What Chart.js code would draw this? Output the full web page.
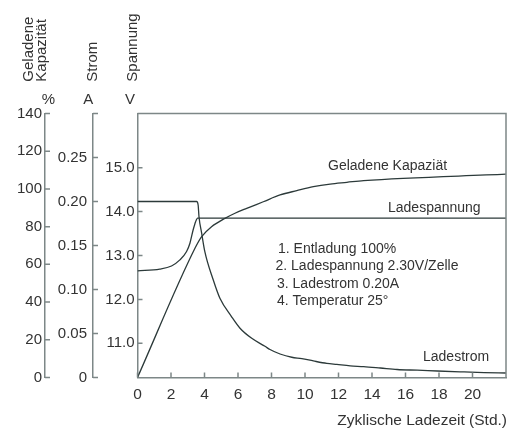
<!DOCTYPE html>
<html>
<head>
<meta charset="utf-8">
<script src="https://cdn.jsdelivr.net/npm/chart.js@4.4.0/dist/chart.umd.min.js"></script>
<style>
html,body{margin:0;padding:0;background:#fff;}
#wrap{width:523px;height:430px;position:relative;}
</style>
</head>
<body>
<div id="wrap"><canvas id="c" width="523" height="430"></canvas></div>
<script>
// ---- data ----
const xTicks = [0, 2, 4, 6, 8, 10, 12, 14, 16, 18, 20];
const pctTicks = [0, 20, 40, 60, 80, 100, 120, 140];
const ampTicks = [0, 0.05, 0.10, 0.15, 0.20, 0.25];
const voltTicks = [11, 12, 13, 14, 15];

// Geladene Kapazität (%)
const capX = [0, 3.43, 3.83, 4.42, 5.22, 5.82, 6.52, 7.51, 8.51, 9.51, 10.5, 11.5, 12.5, 13.5, 22];
const capY = [0, 68.5, 74.7, 80.0, 84.4, 87.1, 89.7, 93.2, 96.8, 99.1, 101.2, 102.6, 103.5, 104.4, 107.8];

// Ladespannung (V)
const voltX = [0, 1.33, 2.03, 2.53, 2.93, 3.13, 3.32, 3.47, 3.59, 22];
const voltY = [12.65, 12.69, 12.76, 12.90, 13.09, 13.28, 13.58, 13.77, 13.85, 13.85];

// Ladestrom (A)
const ampX = [0, 3.53, 3.62, 3.67, 3.83, 4.02, 4.52, 4.92, 5.62, 6.12, 6.82, 7.61, 7.91, 8.51, 9.21, 9.81, 10.5, 11.3, 11.9, 12.7, 13.5, 14.5, 15.5, 16.7, 17.9, 19.5, 20.7, 22];
const ampY = [0.20, 0.20, 0.196, 0.183, 0.164, 0.143, 0.111, 0.090, 0.069, 0.056, 0.0445, 0.0355, 0.0318, 0.0267, 0.023, 0.0215, 0.0188, 0.0160, 0.0148, 0.0132, 0.0124, 0.0108, 0.0091, 0.0083, 0.0074, 0.0063, 0.0055, 0.0051];

const axisTitleLines = [["Geladene", "Kapazität"], ["Strom"], ["Spannung"]];
const axisUnits = ["%", "A", "V"];
const xTitle = "Zyklische Ladezeit (Std.)";
const seriesLabels = ["Geladene Kapaziät", "Ladespannung", "Ladestrom"];
const notes = ["1. Entladung 100%", "2. Ladespannung 2.30V/Zelle", "3. Ladestrom 0.20A", "4. Temperatur 25°"];

// ---- style ----
const FONT = "'Liberation Sans', Arial, sans-serif";
const TEXT = '#333333';
const AXIS = '#7d8787';
const LINE = '#2c3a3a';

function pts(xs, ys) { return xs.map((x, i) => ({x: x, y: ys[i]})); }

const innerTicks = {
  id: 'innerTicks',
  afterDraw(chart) {
    const ctx = chart.ctx;
    const ca = chart.chartArea;
    const s = chart.scales;
    ctx.save();
    ctx.strokeStyle = AXIS;
    ctx.lineWidth = 1.5;
    // box top and right
    ctx.beginPath();
    ctx.moveTo(ca.left, ca.top); ctx.lineTo(ca.right, ca.top); ctx.lineTo(ca.right, ca.bottom);
    ctx.stroke();
    const TL = 5;
    function yTicks(scale, vals, extraTop) {
      const x = scale.right;
      ctx.beginPath();
      vals.forEach(v => { const y = scale.getPixelForValue(v); ctx.moveTo(x, y); ctx.lineTo(x + TL, y); });
      if (extraTop) { ctx.moveTo(x, ca.top); ctx.lineTo(x + TL, ca.top); }
      ctx.stroke();
    }
    yTicks(s.yPct, pctTicks, false);
    yTicks(s.yAmp, ampTicks, true);
    yTicks(s.yVolt, voltTicks, false);
    ctx.beginPath();
    xTicks.forEach(v => { const x = s.x.getPixelForValue(v); ctx.moveTo(x, ca.bottom); ctx.lineTo(x, ca.bottom - TL); });
    ctx.stroke();

    // axis titles (rotated)
    ctx.fillStyle = TEXT;
    ctx.font = '15px ' + FONT;
    ctx.textAlign = 'left';
    ctx.textBaseline = 'alphabetic';
    const titlePos = [[[32.7, 81.7], [45.5, 81.7]], [[96.7, 81.7]], [[136.7, 81.7]]];
    axisTitleLines.forEach((lines, i) => {
      lines.forEach((t, j) => {
        ctx.save();
        ctx.translate(titlePos[i][j][0], titlePos[i][j][1]);
        ctx.rotate(-Math.PI / 2);
        ctx.fillText(t, 0, 0);
        ctx.restore();
      });
    });
    // units
    ctx.textAlign = 'center';
    ctx.textBaseline = 'middle';
    const unitX = [48.3, 88.3, 130];
    axisUnits.forEach((u, i) => ctx.fillText(u, unitX[i], 100));

    // x title
    ctx.font = '15.5px ' + FONT;
    ctx.textAlign = 'right';
    ctx.fillText(xTitle, ca.right + 1, 421);

    // series labels
    ctx.font = '14px ' + FONT;
    ctx.textAlign = 'left';
    const lblPos = [[328, 166], [388, 208], [423, 357]];
    seriesLabels.forEach((t, i) => ctx.fillText(t, lblPos[i][0], lblPos[i][1]));
    const noteX = [278, 275.5, 277, 277];
    const noteY = [249, 266.5, 284, 301];
    notes.forEach((t, i) => ctx.fillText(t, noteX[i], noteY[i]));
    ctx.restore();
  }
};

function fixedWidth(w) { return function (scale) { scale.width = w; }; }

const ds = (data, axis) => ({
  data: data, yAxisID: axis, borderColor: LINE, borderWidth: 1.3,
  pointRadius: 0, fill: false, cubicInterpolationMode: 'monotone'
});

new Chart(document.getElementById('c'), {
  type: 'line',
  data: {
    datasets: [
      ds(pts(capX, capY), 'yPct'),
      ds(pts(voltX, voltY), 'yVolt'),
      ds(pts(ampX, ampY), 'yAmp')
    ]
  },
  options: {
    responsive: false,
    animation: false,
    devicePixelRatio: 1,
    layout: { padding: { top: 113.5, right: 17, left: 0, bottom: 0 } },
    plugins: { legend: { display: false }, tooltip: { enabled: false }, title: { display: false } },
    scales: {
      x: {
        type: 'linear', min: 0, max: 22, position: 'bottom',
        afterBuildTicks: s => { s.ticks = xTicks.map(v => ({value: v})); },
        afterFit: s => { s.height = 52.5; },
        grid: { display: false, drawTicks: false },
        border: { display: true, color: AXIS, width: 1.5 },
        ticks: { color: TEXT, font: { size: 15.5, family: FONT }, padding: 8, maxRotation: 0, autoSkip: false,
                 callback: v => String(v) }
      },
      yPct: {
        type: 'linear', position: 'left', weight: 3, min: 0, max: 140,
        afterBuildTicks: s => { s.ticks = pctTicks.map(v => ({value: v})); },
        afterFit: fixedWidth(45),
        grid: { display: false, drawTicks: false },
        border: { display: true, color: AXIS, width: 1.5 },
        ticks: { color: TEXT, font: { size: 15, family: FONT }, padding: 3, autoSkip: false, callback: v => String(v) }
      },
      yAmp: {
        type: 'linear', position: 'left', weight: 2, min: 0, max: 0.3,
        afterBuildTicks: s => { s.ticks = ampTicks.map(v => ({value: v})); },
        afterFit: fixedWidth(48),
        grid: { display: false, drawTicks: false },
        border: { display: true, color: AXIS, width: 1.5 },
        ticks: { color: TEXT, font: { size: 15, family: FONT }, padding: 6, autoSkip: false,
                 callback: v => v === 0 ? '0' : Number(v).toFixed(2) }
      },
      yVolt: {
        type: 'linear', position: 'left', weight: 1, min: 10.22, max: 16.235,
        afterBuildTicks: s => { s.ticks = voltTicks.map(v => ({value: v})); },
        afterFit: fixedWidth(44.5),
        grid: { display: false, drawTicks: false },
        border: { display: true, color: AXIS, width: 1.5 },
        ticks: { color: TEXT, font: { size: 15, family: FONT }, padding: 3, autoSkip: false,
                 callback: v => Number(v).toFixed(1) }
      }
    }
  },
  plugins: [innerTicks]
});
</script>
</body>
</html>
